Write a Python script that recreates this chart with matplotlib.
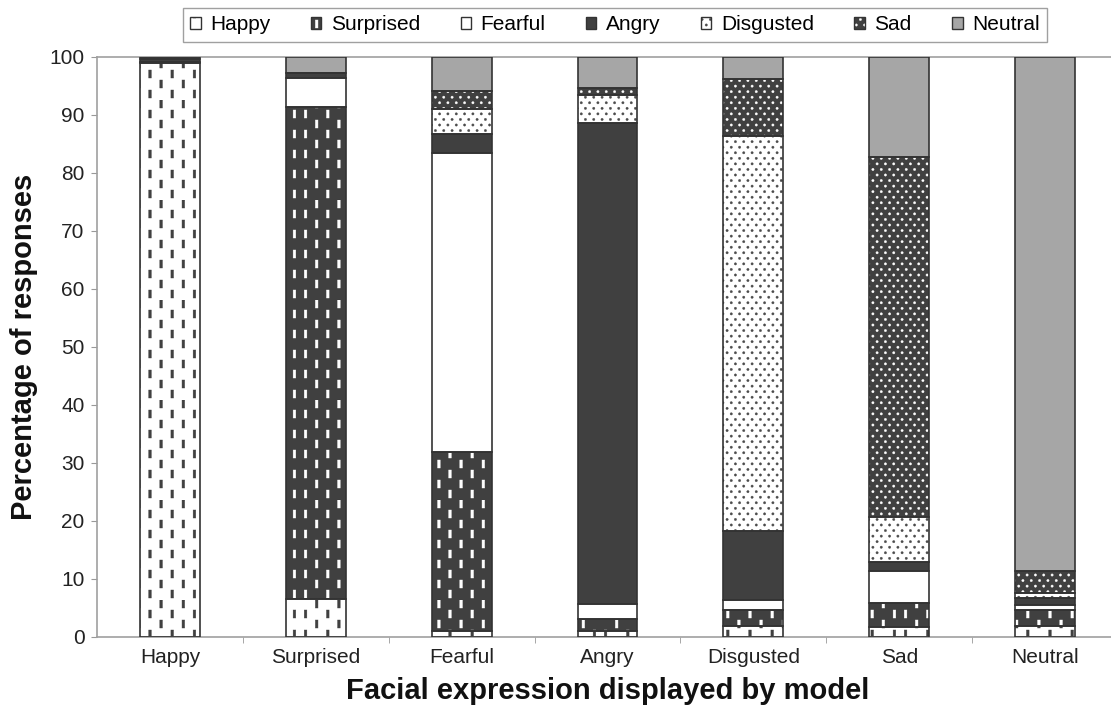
import numpy as np
import matplotlib
matplotlib.use('Agg')
import matplotlib.pyplot as plt
import matplotlib.hatch as mhatch
from matplotlib.path import Path
from matplotlib.patches import Patch

categories = ['Happy', 'Surprised', 'Fearful', 'Angry', 'Disgusted', 'Sad', 'Neutral']
responses = ['Happy', 'Surprised', 'Fearful', 'Angry', 'Disgusted', 'Sad', 'Neutral']

happy = [98.9, 6.5, 1.0, 1.1, 1.9, 1.8, 1.9]
surprised = [0.3, 84.9, 30.9, 2.0, 2.7, 4.0, 2.7]
fearful = [0.0, 4.9, 51.6, 2.6, 1.8, 5.5, 1.0]
angry = [0.4, 0.9, 3.3, 82.9, 11.9, 1.6, 1.2]
disgusted = [0.0, 0.0, 4.3, 4.8, 68.0, 7.8, 0.7]
sad = [0.4, 0.0, 3.1, 1.3, 9.9, 62.1, 3.8]
neutral = [0.0, 2.8, 5.8, 5.3, 3.8, 17.2, 88.7]

series = [happy, surprised, fearful, angry, disgusted, sad, neutral]

DARK = '#404040'
# fill, hatch colour, hatch
styles = [
    ('white', DARK, '|'),
    (DARK, 'white', '|'),
    ('white', 'white', None),
    (DARK, DARK, None),
    ('white', '#4a4a4a', '.'),
    (DARK, 'white', '.'),
    ('#a6a6a6', '#a6a6a6', None),
]


# Excel-like hatches: staggered short dashes and staggered dots
class DashHatch(mhatch.HatchPatternBase):
    ncol, nrow = 9, 5

    def __init__(self, hatch, density):
        self.on = '|' in hatch
        self.num_vertices = self.ncol * self.nrow * 5 if self.on else 0

    def set_vertices_and_codes(self, vertices, codes):
        w, h = 0.013, 0.04
        i = 0
        for c in range(self.ncol):
            x = (c + 0.5) / self.ncol
            for r in range(self.nrow):
                y = r / self.nrow + (0.5 / self.nrow if c % 2 else 0) + 0.06
                vertices[i:i + 5] = [(x - w, y - h), (x + w, y - h), (x + w, y + h),
                                     (x - w, y + h), (x - w, y - h)]
                codes[i:i + 5] = [Path.MOVETO, Path.LINETO, Path.LINETO,
                                  Path.LINETO, Path.CLOSEPOLY]
                i += 5


class DotHatch(mhatch.HatchPatternBase):
    ncol, nrow, nseg = 12, 18, 8

    def __init__(self, hatch, density):
        self.on = '.' in hatch
        self.num_vertices = self.ncol * self.nrow * (self.nseg + 1) if self.on else 0

    def set_vertices_and_codes(self, vertices, codes):
        rad = 0.012
        ang = np.linspace(0, 2 * np.pi, self.nseg, endpoint=False)
        k = self.nseg + 1
        i = 0
        for r in range(self.nrow):
            y = (r + 0.5) / self.nrow
            for c in range(self.ncol):
                x = (c + (0.75 if r % 2 else 0.25)) / self.ncol
                pts = np.column_stack([x + rad * np.cos(ang), y + rad * np.sin(ang)])
                vertices[i:i + k - 1] = pts
                vertices[i + k - 1] = pts[0]
                codes[i] = Path.MOVETO
                codes[i + 1:i + k - 1] = Path.LINETO
                codes[i + k - 1] = Path.CLOSEPOLY
                i += k


mhatch._hatch_types = [t for t in mhatch._hatch_types
                       if t not in (mhatch.VerticalHatch, mhatch.SmallFilledCircles)]
mhatch._hatch_types += [DashHatch, DotHatch]

plt.rcParams['font.family'] = ['Liberation Sans', 'DejaVu Sans']
plt.rcParams['hatch.linewidth'] = 0.3

fig = plt.figure(figsize=(11.11, 7.15), dpi=100)
ax = fig.add_axes([0.0873, 0.1091, 1.0063 - 0.0873, 0.9203 - 0.1091])

x = np.arange(len(categories))
width = 0.41
bottom = np.zeros(len(categories))
handles = []
for name, vals, (fc, hc, hatch) in zip(responses, series, styles):
    vals = np.array(vals)
    ax.bar(x, vals, width, bottom=bottom, color=fc, edgecolor=hc,
           linewidth=0, hatch=hatch, zorder=2)
    ax.bar(x, vals, width, bottom=bottom, fill=False, edgecolor='#333333',
           linewidth=1.2, zorder=3)
    bottom += vals
    handles.append((Patch(facecolor=fc, edgecolor=hc, linewidth=0, hatch=hatch),
                    Patch(fill=False, edgecolor='#333333', linewidth=1.0)))

ax.set_xlim(-0.5, len(categories) - 0.5)
ax.set_ylim(0, 100)
ax.set_yticks(range(0, 101, 10))
ax.set_xticks(x)
ax.set_xticklabels(categories)
ax.set_xticks(np.arange(0.5, len(categories) - 1, 1), minor=True)
ax.tick_params(axis='x', which='major', length=0, pad=8, labelsize=15, labelcolor='#222222')
ax.tick_params(axis='x', which='minor', length=4, color='#999999')
ax.tick_params(axis='y', length=4, color='#999999', pad=5, labelsize=15, labelcolor='#222222')

for side in ['left', 'bottom', 'top']:
    ax.spines[side].set_color('#a0a0a0')
    ax.spines[side].set_linewidth(1.2)
ax.spines['right'].set_visible(False)

ax.set_xlabel('Facial expression displayed by model', fontsize=21, fontweight='bold',
              labelpad=7, color='#111111')
ax.set_ylabel('Percentage of responses', fontsize=21, fontweight='bold',
              labelpad=8, color='#111111')

leg = fig.legend(handles, responses, loc='upper left', bbox_to_anchor=(183 / 1111, 1 - 8 / 715),
                 ncol=7, fontsize=15, frameon=True, fancybox=False, edgecolor='#888888',
                 handlelength=0.5, handleheight=0.5, handletextpad=0.45,
                 columnspacing=1.95, borderpad=0.35, borderaxespad=0)
leg.get_frame().set_linewidth(1.0)

plt.savefig('out.png', dpi=100)
plt.close()
